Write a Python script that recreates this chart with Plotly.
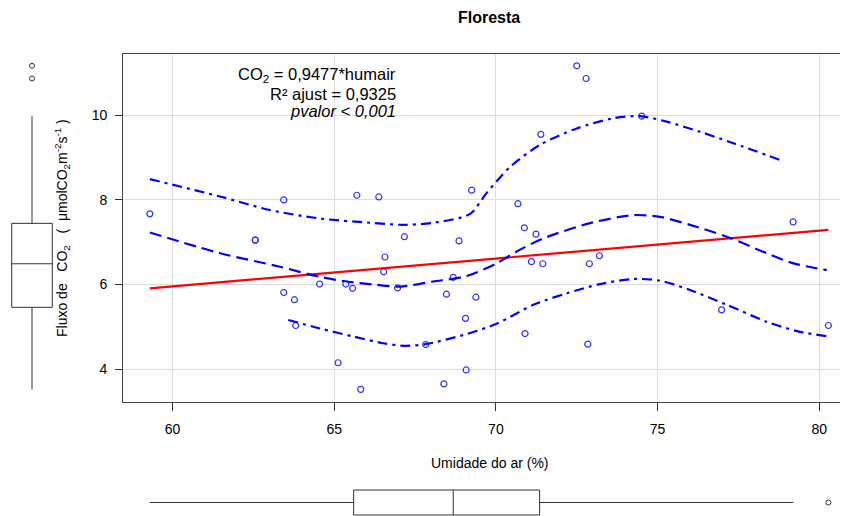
import plotly.graph_objects as go

# ---------------- data ----------------
hum = [59.30, 62.56, 62.56, 63.44, 63.44, 63.77, 63.81, 64.55, 65.12, 65.36, 65.57,
       65.70, 65.82, 66.38, 66.53, 66.57, 66.96, 67.17, 67.83, 68.39, 68.47, 68.68,
       68.86, 69.06, 69.08, 69.25, 69.38, 70.68, 70.88, 70.90, 71.10, 71.24, 71.39,
       71.45, 72.50, 72.79, 72.84, 72.89, 73.20, 74.51, 76.98, 79.19, 80.28]
flux = [7.67, 7.05, 7.05, 8.00, 5.81, 5.64, 5.03, 6.01, 4.15, 6.01, 5.91,
        8.11, 3.52, 8.07, 6.30, 6.65, 5.92, 7.13, 4.58, 3.65, 5.77, 6.17,
        7.03, 5.20, 3.98, 8.23, 5.70, 7.91, 7.34, 4.84, 6.54, 7.19, 9.55,
        6.49, 11.17, 10.87, 4.59, 6.49, 6.68, 9.98, 5.40, 7.48, 5.03]

fit_x = [59.30, 80.28]
fit_y = [5.91, 7.29]

smooth_x = [59.3, 61.47, 63.32, 64.56, 65.39, 66.21, 67.03, 68.06, 69.10, 70.02,
            70.64, 71.47, 72.91, 74.25, 75.07, 76.0, 77.14, 78.37, 79.20, 80.23]
smooth_y = [7.23, 6.74, 6.42, 6.18, 6.07, 6.00, 5.95, 6.07, 6.20, 6.50,
            6.78, 7.09, 7.45, 7.64, 7.60, 7.41, 7.13, 6.74, 6.50, 6.34]

upper_x = [59.3, 61.47, 63.01, 64.56, 66.11, 67.14, 68.06, 69.20, 69.71, 70.44,
           71.36, 72.50, 73.63, 74.46, 75.28, 76.31, 77.34, 78.84]
upper_y = [8.49, 8.08, 7.76, 7.56, 7.46, 7.41, 7.46, 7.67, 8.16, 8.78,
           9.30, 9.69, 9.93, 9.98, 9.85, 9.61, 9.34, 8.93]

lower_x = [63.58, 64.56, 65.59, 66.52, 67.14, 67.83, 69.10, 70.02, 71.16, 72.19,
           73.22, 74.25, 75.07, 76.0, 77.14, 78.37, 79.40, 80.23]
lower_y = [5.16, 4.96, 4.77, 4.61, 4.55, 4.59, 4.83, 5.07, 5.52, 5.79,
           6.01, 6.13, 6.09, 5.87, 5.52, 5.12, 4.88, 4.78]

x_ticks = [60, 65, 70, 75, 80]
y_ticks = [4, 6, 8, 10]

title = "Floresta"
x_title = "Umidade do ar (%)"
NB = "\u00a0"
y_title = ("Fluxo de" + NB * 3 + "CO<sub>2</sub>" + NB * 3 + "(" + NB * 2 +
           "μmolCO<sub>2</sub>m<sup>-2</sup>s<sup>-1</sup>" + NB + ")")
eq_lines = ["CO<sub>2</sub>" + NB + "=" + NB + "0,9477*humair",
            "R\u00b2 ajust" + NB + "=" + NB + "0,9325",
            "<i>pvalor &lt; 0,001</i>"]

# ---------------- layout geometry ----------------
# the page body adds an 8 px offset; figure coordinates are page coordinates minus OFF
OFF = 8
W, H = 840, 508
FONT = "Liberation Sans, Arial, sans-serif"
XR = [58.479, 80.887]
YR = [3.222, 11.449]


def px(x):
    return (x - OFF) / W


def py(y):
    return (H - (y - OFF)) / H


xdom = [px(123.3), 1.0]
ydom = [py(402), py(54)]

fig = go.Figure()

# main scatter
fig.add_trace(go.Scatter(x=hum, y=flux, mode="markers",
                         marker=dict(symbol="circle-open", size=6, color="rgb(50,50,255)",
                                     line=dict(width=1.2)),
                         xaxis="x", yaxis="y", showlegend=False, hoverinfo="skip"))
# regression line
fig.add_trace(go.Scatter(x=fit_x, y=fit_y, mode="lines",
                         line=dict(color="red", width=2.2),
                         xaxis="x", yaxis="y", showlegend=False))
# smoother
fig.add_trace(go.Scatter(x=smooth_x, y=smooth_y, mode="lines",
                         line=dict(color="blue", width=2.2, dash="12px,6px", shape="spline", smoothing=0.8),
                         xaxis="x", yaxis="y", showlegend=False))
for cx, cy in [(upper_x, upper_y), (lower_x, lower_y)]:
    fig.add_trace(go.Scatter(x=cx, y=cy, mode="lines",
                             line=dict(color="blue", width=2.2, dash="10px,5px,3px,5px",
                                       shape="spline", smoothing=0.8),
                             xaxis="x", yaxis="y", showlegend=False))

box_style = dict(boxpoints="outliers", quartilemethod="linear", whiskerwidth=0,
                 fillcolor="white", line=dict(color="#333333", width=1),
                 marker=dict(symbol="circle-open", size=5, color="#333333", line=dict(width=1)),
                 jitter=0, pointpos=0, showlegend=False, hoverinfo="skip")

# left boxplot (y marginal): centre at page x=32, width 40.6 px
fig.add_trace(go.Box(y=flux, x0=0, width=40.6 / 24, xaxis="x2", yaxis="y2", **box_style))
# bottom boxplot (x marginal): centre at page y=502.5, height 25 px
fig.add_trace(go.Box(x=hum, y0=0, width=25 / 13.5, orientation="h", xaxis="x3", yaxis="y3", **box_style))

axis_font = dict(family=FONT, size=14, color="black")
fig.update_layout(
    width=W, height=H, margin=dict(l=0, r=0, t=0, b=0),
    paper_bgcolor="white", plot_bgcolor="white",
    font=dict(family=FONT, color="black"),
    xaxis=dict(domain=xdom, range=XR, anchor="y", tickvals=x_ticks, ticks="outside",
               ticklen=8, tickwidth=1, tickcolor="#333", showline=True, mirror=True,
               linecolor="#444", linewidth=1.3, showgrid=True, gridcolor="#dddddd",
               gridwidth=1.2, zeroline=False, tickfont=axis_font, ticklabelstandoff=6),
    yaxis=dict(domain=ydom, range=YR, anchor="x", tickvals=y_ticks, ticks="outside",
               ticklen=7, tickwidth=1, tickcolor="#333", showline=True, mirror=False,
               linecolor="#444", linewidth=1.3, showgrid=True, gridcolor="#dddddd",
               gridwidth=1.2, zeroline=False, tickfont=axis_font, ticklabelstandoff=5),
    xaxis2=dict(domain=[0, 48 / W], range=[-1, 1], anchor="y2", visible=False),
    yaxis2=dict(domain=ydom, range=YR, anchor="x2", visible=False),
    xaxis3=dict(domain=xdom, range=XR, anchor="y3", visible=False),
    yaxis3=dict(domain=[0, 27 / H], range=[-1, 1], anchor="x3", visible=False),
)

ann = [
    dict(text="<b>%s</b>" % title, x=px(489), y=py(18), font=dict(size=16)),
    dict(text=x_title, x=px(490), y=py(463), font=dict(size=14)),
    dict(text=y_title, x=px(62), y=py(228), textangle=-90, font=dict(size=14)),
]
eq_y = [75.0, 94.0, 111.5]
for t, yy in zip(eq_lines, eq_y):
    ann.append(dict(text=t, x=px(397.5), y=py(yy), xanchor="right", font=dict(size=16.5)))
for a in ann:
    a.setdefault("xanchor", "center")
    a.update(xref="paper", yref="paper", showarrow=False, yanchor="middle")
    a["font"].update(family=FONT, color="black")
fig.update_layout(annotations=ann)

fig.write_html("out.html")
